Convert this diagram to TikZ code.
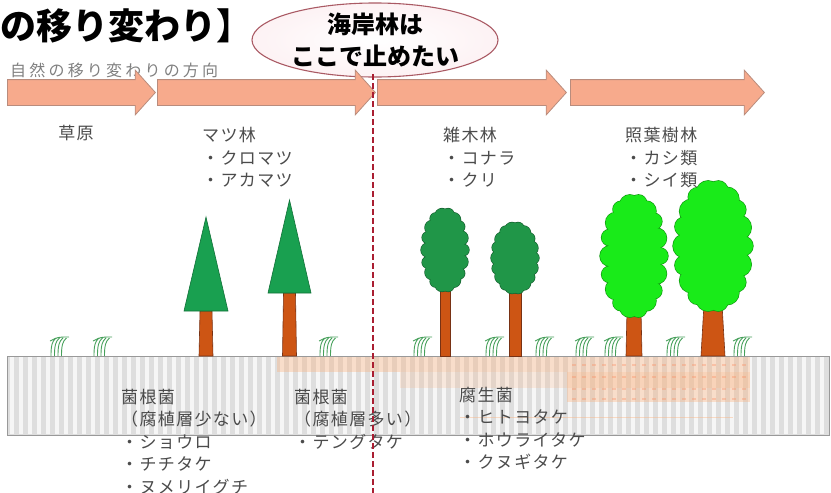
\documentclass[tikz,border=0pt]{standalone}
\usepackage{fontspec}
\usepackage{xcolor}
\usepackage{tikz}
\usetikzlibrary{shapes.geometric,shapes.arrows,positioning}
\setmainfont{Noto Sans CJK JP}
\newfontfamily\jpfont[LetterSpace=8]{Noto Sans CJK JP}
\newfontfamily\jpwide[LetterSpace=20]{Noto Sans CJK JP}

\definecolor{arrowfill}{RGB}{247,170,140}
\definecolor{arrowline}{RGB}{185,140,125}
\definecolor{labelgray}{RGB}{75,75,75}
\definecolor{cutred}{RGB}{170,30,50}
\definecolor{goaledge}{RGB}{170,90,100}
\definecolor{goalpink}{RGB}{253,242,244}
\definecolor{soilgray}{RGB}{222,222,222}
\definecolor{humus}{RGB}{252,175,120}
\definecolor{needle}{RGB}{25,160,80}
\definecolor{oakgreen}{RGB}{32,150,72}
\definecolor{laurelgreen}{RGB}{25,235,25}
\definecolor{bark}{RGB}{205,85,20}
\definecolor{barkedge}{RGB}{120,50,20}
\definecolor{grassgreen}{RGB}{70,160,90}

\tikzset{
  stagearrow/.style={single arrow, draw=arrowline, fill=arrowfill, line width=0.8pt,
    inner xsep=0pt, inner ysep=12.5pt, single arrow head extend=9.5pt,
    single arrow tip angle=96, anchor=tail},
  lbl/.style={font=\jpfont\fontsize{17}{22.5}\selectfont, text=labelgray, align=left, inner sep=0pt},
  fungi/.style={lbl, anchor=north west},
  soilbox/.style={fill=soilgray, minimum width=822pt, minimum height=79pt, inner sep=0pt},
  soilstripe/.style={white, line width=3.5pt, opacity=0.75},
  soiledge/.style={draw=gray!80, line width=0.9pt},
  trunk/.style={fill=bark, draw=barkedge, line width=0.6pt},
  blade/.style={grassgreen, line width=0.9pt},
  cutline/.style={cutred, line width=2pt, dash pattern=on 6pt off 3pt},
}

% conifer: x, apex y, crown base y, crown half width
\newcommand\pinetree[4]{%
  \filldraw[trunk] ({#1-7},356) -- ({#1-6},#3) -- ({#1+6},#3) -- ({#1+7},356) -- cycle;
  \filldraw[fill=needle, draw=needle!70!black, line width=0.6pt]
    (#1,#2) -- ({#1-#4},#3) -- ({#1+#4},#3) -- cycle;
}

% broadleaf tree: x, crown top, crown bottom, crown half width,
% trunk half width at top / at base, crown colour
\newcommand\leaftree[7]{%
  \pgfmathsetmacro\cy{(#2+#3)/2}%
  \pgfmathsetmacro\cb{(#3-#2)/2}%
  \pgfmathsetmacro\cr{0.3*#4}%
  \filldraw[trunk] ({#1-#6},356) -- ({#1-#5},{#3-8}) -- ({#1+#5},{#3-8}) -- ({#1+#6},356) -- cycle;
  \foreach \t [count=\k] in {0,20,...,340}{
    \pgfmathsetmacro\rr{\cr*(1-0.2*mod(\k,2))}
    \draw[#7!65!black, line width=1.3pt]
      ({#1+(#4-\rr)*cos(\t)},{\cy+(\cb-\rr)*sin(\t)}) circle[radius=\rr];
  }
  \fill[#7] (#1,\cy) ellipse[x radius={#4-0.8*\cr}, y radius={\cb-0.8*\cr}];
  \foreach \t [count=\k] in {0,20,...,340}{
    \pgfmathsetmacro\rr{\cr*(1-0.2*mod(\k,2))}
    \fill[#7] ({#1+(#4-\rr)*cos(\t)},{\cy+(\cb-\rr)*sin(\t)}) circle[radius=\rr];
  }
}

% tuft of grass standing on the soil line
\newcommand\tuft[1]{%
  \foreach \o in {-7,-3.5,0,3.5}{
    \draw[blade] ({#1+\o},356) .. controls ({#1+\o},346) and ({#1+\o+1},341) .. ({#1+\o+5},338);
  }
  \draw[blade] ({#1-8},341) .. controls (#1,337) .. ({#1+11},337);
}

\begin{document}
\begin{tikzpicture}[x=1pt, y=-1pt]
  \useasboundingbox (0,0) rectangle (831,493);

  % heading and direction caption
  \node[font=\bfseries\fontsize{36}{40}\selectfont, anchor=west, inner sep=0pt] (title) at (0,26) {の移り変わり】};
  \node[font=\jpwide\fontsize{16}{18}\selectfont, text=gray, anchor=west, inner sep=0pt] (direction) at (10,70) {自然の移り変わりの方向};

  % goal balloon
  \node[ellipse, draw=goaledge, line width=1.1pt, inner color=white, outer color=goalpink,
    minimum width=246pt, minimum height=74pt] (goal) at (375,40) {};
  \node[font=\bfseries\fontsize{24}{32}\selectfont, align=center, inner sep=0pt] (goaltext) at (goal.center) {海岸林は\\ここで止めたい};

  % succession stages
  \node[stagearrow, minimum height=148pt] (stage1) at (7,92.5) {};
  \node[stagearrow, minimum height=218pt] (stage2) at (157,92.5) {};
  \node[stagearrow, minimum height=189pt] (stage3) at (377,92.5) {};
  \node[stagearrow, minimum height=194pt] (stage4) at (570,92.5) {};

  % vegetation labels
  \node[lbl] (grassland) at (76,133) {草原};
  \node[lbl, anchor=north west] (pinelbl) at (202,127) {マツ林\\・クロマツ\\・アカマツ};
  \node[lbl, anchor=north west] (coppicelbl) at (443,127) {雑木林\\・コナラ\\・クリ};
  \node[lbl, anchor=north west] (laurellbl) at (625,127) {照葉樹林\\・カシ類\\・シイ類};

  % soil with humus layers
  \node[soilbox, anchor=north west] (soil) at (7,356) {};
  \foreach \x in {12,21,...,828}{
    \draw[soilstripe] (\x,357) -- (\x,434);
  }
  \fill[humus, opacity=0.35] (277,357) rectangle (750,372);
  \fill[humus, opacity=0.2] (400,372) rectangle (750,388);
  \fill[humus, opacity=0.35] (567,372) rectangle (750,402);
  \foreach \x in {572,582,...,745}{
    \foreach \y in {364,376,388,398}{
      \fill[humus!80!red, opacity=0.35] (\x,\y) rectangle ++(4,1.6);
    }
  }
  \draw[humus, opacity=0.4, line width=0.8pt] (460,417) -- (733,417);
  \draw[soiledge] (soil.north west) rectangle (soil.south east);

  % fungi
  \node[fungi] (myco1) at (121,389) {菌根菌\\（腐植層少ない）\\・ショウロ\\・チチタケ\\・ヌメリイグチ};
  \node[fungi] (myco2) at (294,389) {菌根菌\\（腐植層多い）\\・テングタケ};
  \node[fungi] (sapro) at (459,387) {腐生菌\\・ヒトヨタケ\\・ホウライタケ\\・クヌギタケ};

  % trees
  \pinetree{206}{217}{311}{22}
  \pinetree{289.5}{200}{293}{21.5}
  \leaftree{445}{208}{292}{24}{5}{5}{oakgreen}
  \leaftree{515}{222}{294}{24}{6}{6}{oakgreen}
  \leaftree{634}{194}{318}{34}{7}{8}{laurelgreen}
  \leaftree{713}{180}{312}{40}{9}{12}{laurelgreen}

  % grass
  \foreach \g in {58,101,327,421,493,543,583,612,674,741}{
    \tuft{\g}
  }

  % limit line
  \coordinate (cuttop) at (373,74);
  \coordinate (cutbot) at (373,493);
  \draw[cutline] (cuttop) -- (cutbot);
\end{tikzpicture}
\end{document}
